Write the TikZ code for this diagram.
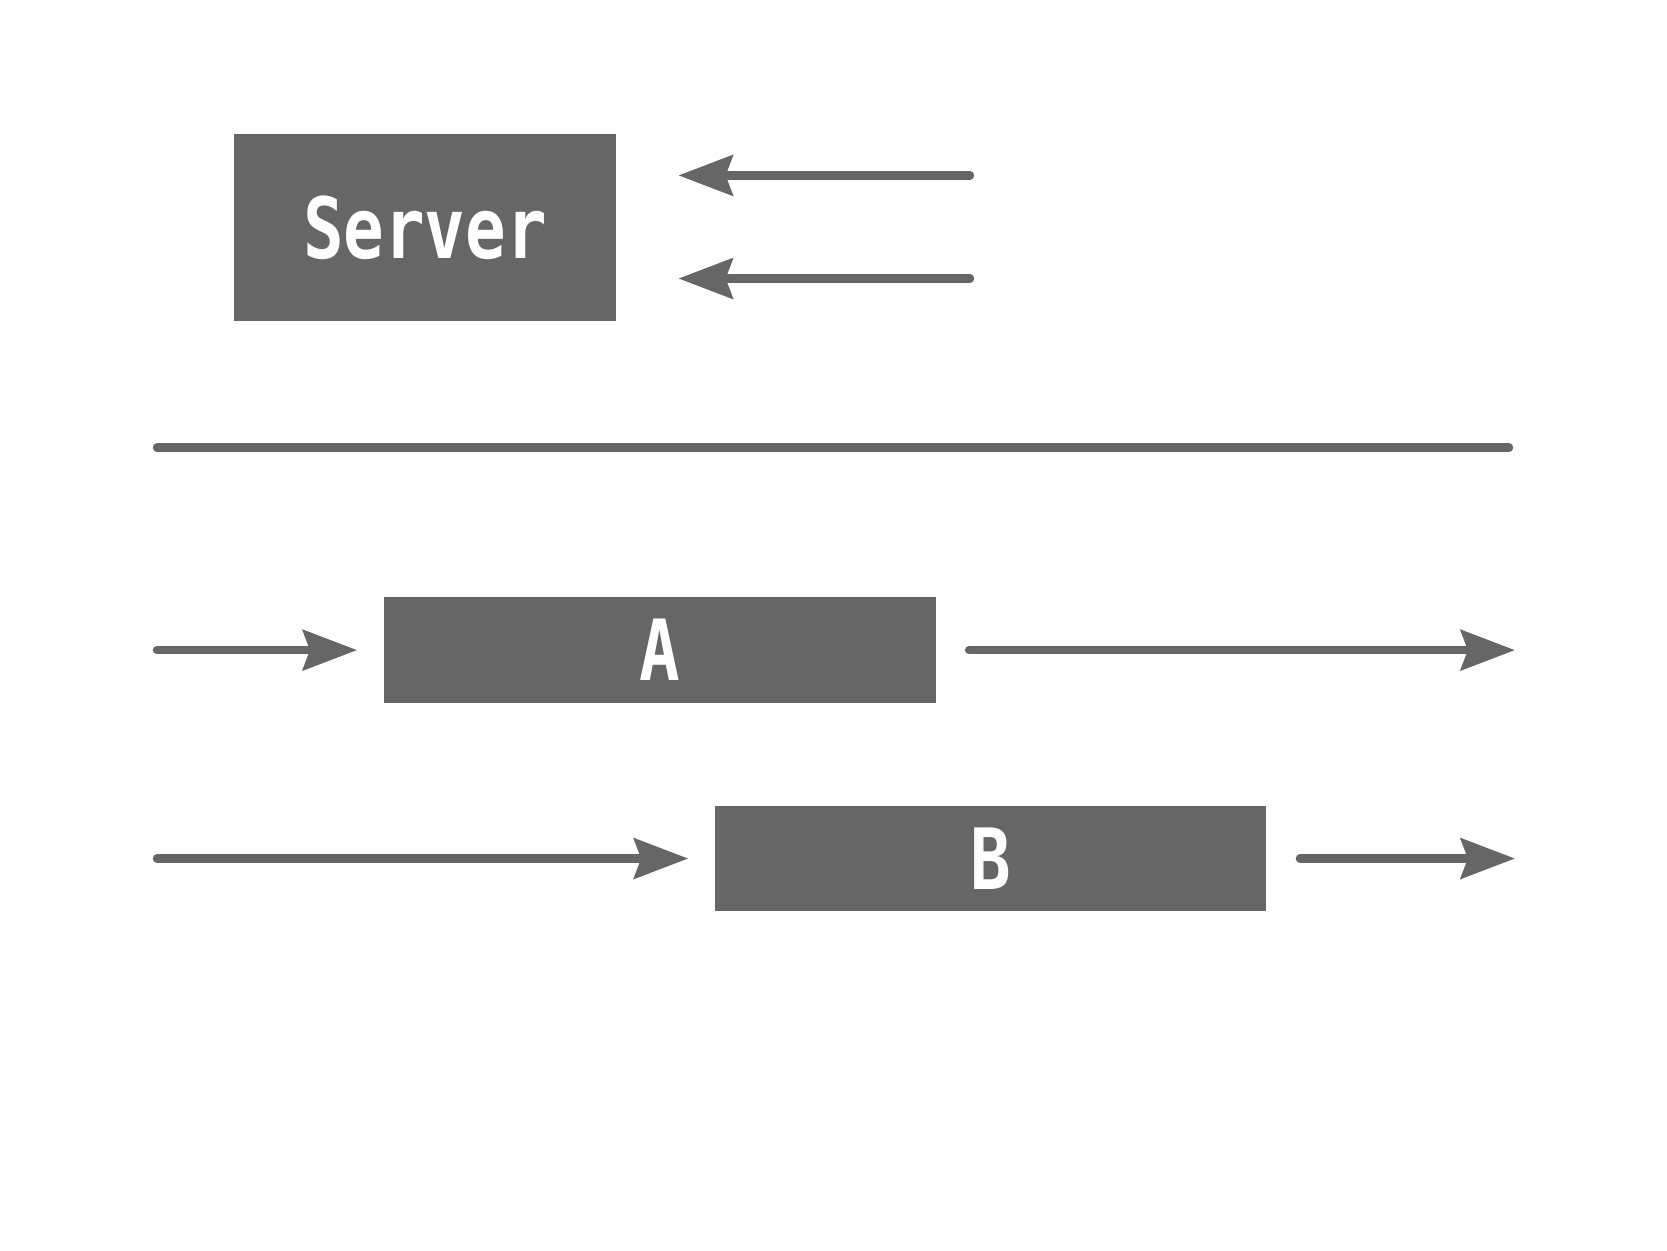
\documentclass[tikz,border=0pt]{standalone}
\usepackage{fontspec}
\setmonofont{DejaVu Sans Mono}
\usetikzlibrary{arrows.meta}
\definecolor{boxgray}{HTML}{666666}
\tikzset{
  blk/.style={fill=boxgray, draw=none, inner sep=0pt, text=white,
    font=\fontsize{24}{24}\selectfont\ttfamily\bfseries},
  conn/.style={draw=boxgray, line width=2.4pt, line cap=round,
    -{Stealth[length=15.4pt, width=11.4pt, inset=2pt]}},
  sep/.style={draw=boxgray, line width=2.4pt, line cap=round}
}
\newcommand{\narrowtxt}[1]{\scalebox{0.8}[1]{#1}}
\begin{document}
\begin{tikzpicture}[x=0.01cm,y=-0.01cm]
\useasboundingbox[fill=white] (0,0) rectangle (1667,1250);

\node[blk, minimum width=3.815cm, minimum height=1.87cm] (server) at (425,227.5) {\narrowtxt{Server}};
\node[blk, minimum width=5.515cm, minimum height=1.052cm] (a) at (659.75,650.1) {\narrowtxt{A}};
\node[blk, minimum width=5.505cm, minimum height=1.05cm] (b) at (990.75,858.5) {\narrowtxt{B}};

% server arrows
\coordinate (s1) at (970,175.4);
\coordinate (s2) at (970,278.5);
\draw[conn, shorten >=17.6pt] (s1) -- (s1 -| server.east);
\draw[conn, shorten >=17.6pt] (s2) -- (s2 -| server.east);

% separator
\coordinate (l1) at (157,447.6);
\coordinate (l2) at (1509,447.6);
\draw[sep] (l1) -- (l2);

% A row
\coordinate (a0) at (157,650.1);
\coordinate (a1) at (1515,650.1);
\draw[conn, shorten >=7.4pt] (a0) -- (a.west);
\draw[conn, shorten <=9.3pt] (a.east) -- (a1);

% B row
\coordinate (b0) at (157,858.5);
\coordinate (b1) at (1515,858.5);
\draw[conn, shorten >=7.5pt] (b0) -- (b.west);
\draw[conn, shorten <=9.4pt] (b.east) -- (b1);
\end{tikzpicture}
\end{document}
